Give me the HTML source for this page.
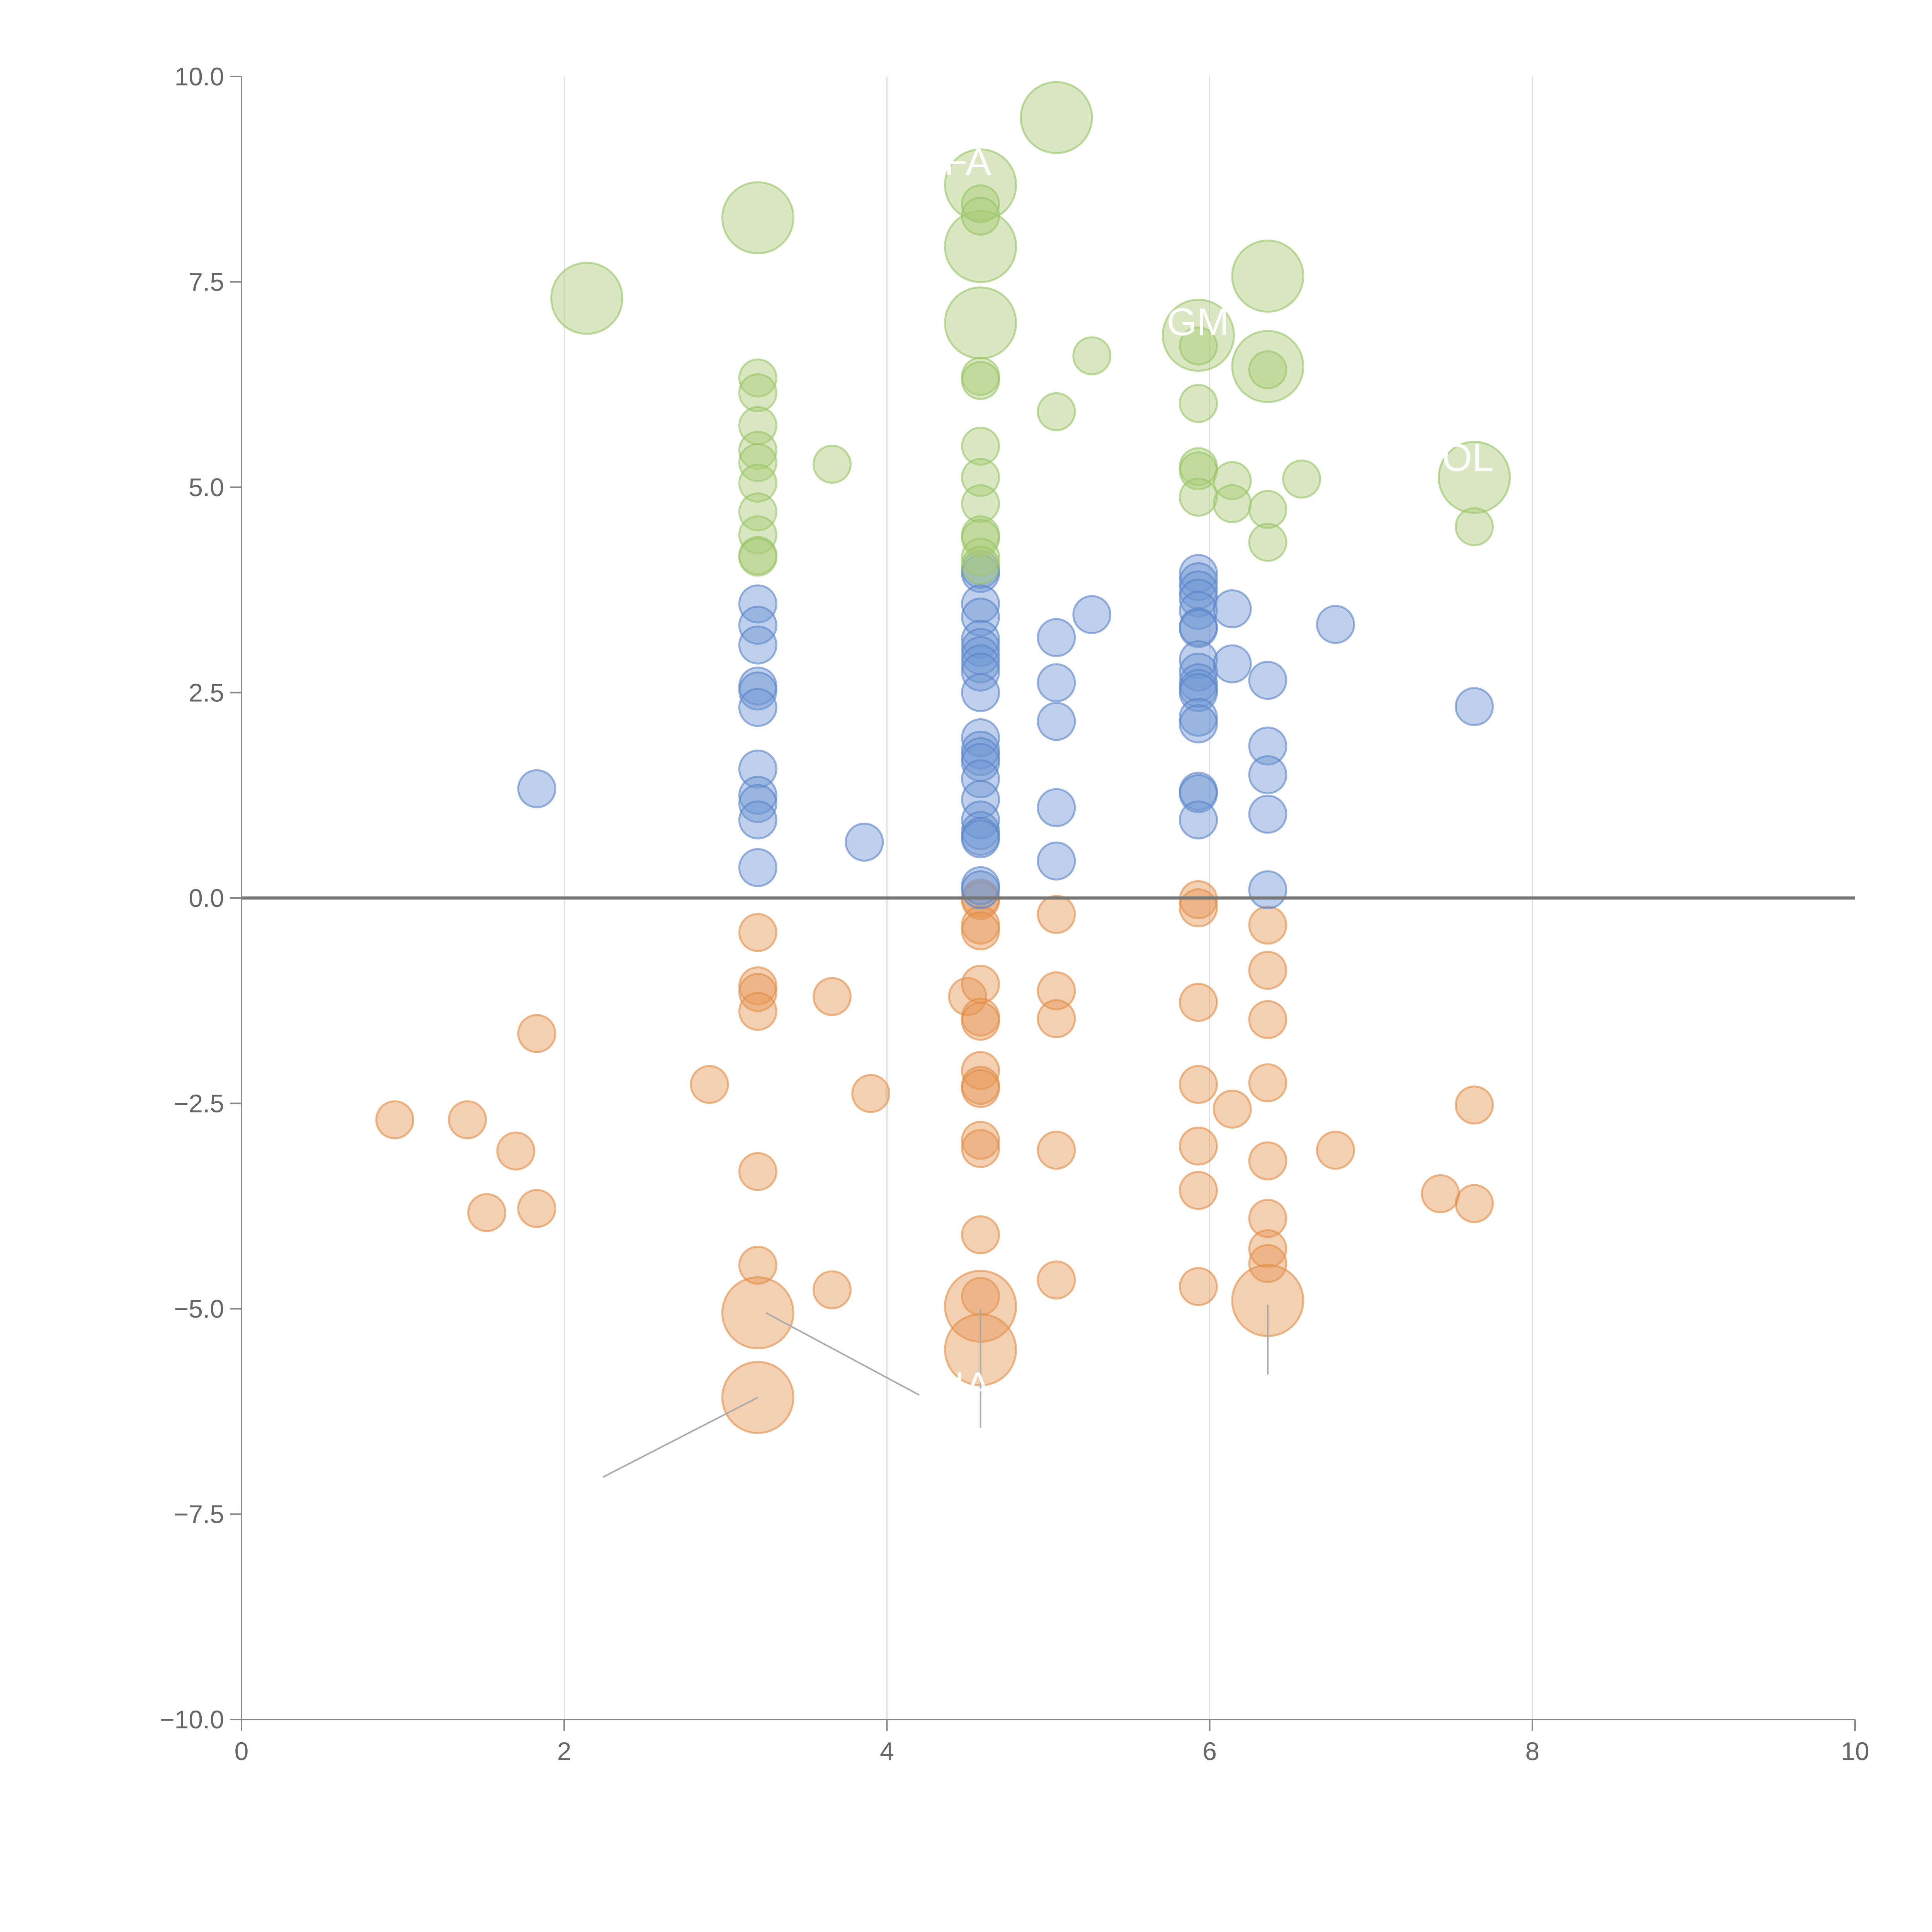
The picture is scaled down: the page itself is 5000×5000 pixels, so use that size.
<!DOCTYPE html>
<html><head><meta charset="utf-8"><style>html,body{margin:0;padding:0;background:#fff}svg{display:block}</style></head>
<body>
<svg id="chart" width="5000" height="5000" viewBox="0 0 5000 5000" xmlns="http://www.w3.org/2000/svg" font-family="Liberation Sans, sans-serif"></svg>
<script>
const xTicks=[0,2,4,6,8,10];
const yTicks=[-10,-7.5,-5,-2.5,0,2.5,5,7.5,10];
const yTickLabels=["\u221210.0","\u22127.5","\u22125.0","\u22122.5","0.0","2.5","5.0","7.5","10.0"];
const greenX=[2.14,3.2,5.05,4.58,4.58,4.58,6.36,5.93,6.36,7.64,3.2,3.2,3.2,3.2,3.2,3.2,3.2,3.2,3.2,3.2,3.66,4.58,4.58,4.58,4.58,4.58,4.58,4.58,4.58,4.58,4.58,4.58,5.05,5.27,5.93,5.93,5.93,5.93,5.93,6.36,6.36,6.36,6.14,6.14,6.57,7.64];
const greenY=[7.3,8.28,9.5,8.68,7.93,7.0,7.57,6.85,6.47,5.12,6.33,6.15,5.75,5.45,5.3,5.05,4.7,4.42,4.17,4.15,5.28,8.45,8.3,6.35,6.3,5.5,5.12,4.8,4.42,4.38,4.15,4.05,5.92,6.6,6.72,6.02,5.25,5.2,4.88,6.43,4.73,4.33,5.08,4.8,5.1,4.52];
const greenBig=[1,1,1,1,1,1,1,1,1,1,0,0,0,0,0,0,0,0,0,0,0,0,0,0,0,0,0,0,0,0,0,0,0,0,0,0,0,0,0,0,0,0,0,0,0,0];
const blueX=[1.83,3.2,3.2,3.2,3.2,3.2,3.2,3.2,3.2,3.2,3.2,3.2,3.86,4.58,4.58,4.58,4.58,4.58,4.58,4.58,4.58,4.58,4.58,4.58,4.58,4.58,4.58,4.58,4.58,4.58,4.58,4.58,4.58,4.58,4.58,5.05,5.05,5.05,5.05,5.05,5.27,5.93,5.93,5.93,5.93,5.93,5.93,5.93,5.93,5.93,5.93,5.93,5.93,5.93,5.93,5.93,5.93,5.93,6.14,6.14,6.36,6.36,6.36,6.36,6.36,6.78,7.64];
const blueY=[1.33,3.58,3.32,3.08,2.58,2.52,2.32,1.57,1.25,1.15,0.95,0.37,0.68,4.0,3.95,3.58,3.42,3.15,3.05,2.95,2.85,2.75,2.5,1.95,1.8,1.72,1.65,1.45,1.2,0.95,0.82,0.75,0.72,0.15,0.1,3.17,2.62,2.15,1.1,0.45,3.45,3.95,3.85,3.75,3.65,3.5,3.3,3.28,2.9,2.75,2.62,2.55,2.5,2.2,2.12,1.3,1.27,0.95,3.52,2.85,2.65,1.85,1.5,1.02,0.1,3.33,2.33];
const orangeX=[0.95,1.4,1.7,1.52,1.83,1.83,2.9,3.2,3.2,3.2,3.2,3.2,3.2,3.2,3.2,3.66,3.9,3.66,4.5,4.58,4.58,4.58,4.58,4.58,4.58,4.58,4.58,4.58,4.58,4.58,4.58,4.58,4.58,4.58,4.58,5.05,5.05,5.05,5.05,5.05,5.93,5.93,5.93,5.93,5.93,5.93,5.93,6.14,6.36,6.36,6.36,6.36,6.36,6.36,6.36,6.36,6.36,6.78,7.43,7.64,7.64];
const orangeY=[-2.7,-2.7,-3.08,-3.83,-3.78,-1.65,-2.27,-0.42,-1.07,-1.15,-1.38,-3.33,-4.47,-5.05,-6.08,-1.2,-2.38,-4.77,-1.2,0.0,-0.03,-0.33,-0.4,-1.05,-1.45,-1.5,-2.1,-2.28,-2.32,-2.95,-3.05,-4.1,-4.85,-4.97,-5.5,-0.2,-1.13,-1.47,-3.07,-4.65,-0.02,-0.12,-1.27,-2.27,-3.02,-3.56,-4.73,-2.57,-0.33,-0.88,-1.48,-2.25,-3.2,-3.9,-4.27,-4.45,-4.9,-3.07,-3.6,-2.52,-3.72];
const orangeBig=[0,0,0,0,0,0,0,0,0,0,0,0,0,1,1,0,0,0,0,0,0,0,0,0,0,0,0,0,0,0,0,0,0,1,1,0,0,0,0,0,0,0,0,0,0,0,0,0,0,0,0,0,0,0,0,0,1,0,0,0,0];

const NS="http://www.w3.org/2000/svg";
const svg=document.getElementById('chart');
const X0=625,X1=4801,Y0=4450,Y1=198;
const sx=v=>X0+(v-0)/10*(X1-X0);
const sy=v=>Y0-(v+10)/20*(Y0-Y1);
function mk(tag,attrs,parent){const e=document.createElementNS(NS,tag);for(const k in attrs)e.setAttribute(k,attrs[k]);(parent||svg).appendChild(e);return e;}

xTicks.forEach(t=>{if(t>0&&t<10){const l=mk('line',{x1:sx(t),x2:sx(t),y1:Y1,y2:Y0,stroke:'#dddddd','stroke-width':3});

}});
const ya=mk('line',{x1:X0,x2:X0,y1:Y1,y2:Y0,stroke:'#888','stroke-width':4});


const xa=mk('line',{x1:X0,x2:X1,y1:Y0,y2:Y0,stroke:'#888','stroke-width':4});


xTicks.forEach(t=>{mk('line',{x1:sx(t),x2:sx(t),y1:Y0,y2:Y0+30,stroke:'#888','stroke-width':4});
const tx=mk('text',{x:sx(t),y:Y0+105,'text-anchor':'middle','font-size':66,fill:'#666'});tx.textContent=t;

});
yTicks.forEach((t,i)=>{mk('line',{x1:X0-30,x2:X0,y1:sy(t),y2:sy(t),stroke:'#888','stroke-width':4});
const tx=mk('text',{x:X0-45,y:sy(t)+23,'text-anchor':'end','font-size':66,fill:'#666'});tx.textContent=yTickLabels[i];

});

function series(xs,ys,big,fill,stroke,name){
 xs.forEach((x,i)=>{const c=mk('circle',{cx:sx(x),cy:sy(ys[i]),r:(big&&big[i])?92:48,fill:fill,stroke:stroke,'stroke-width':5});
 
 });
}
series(orangeX,orangeY,orangeBig,'rgba(230,150,85,0.45)','rgba(225,140,70,0.6)','orange-bubble');
series(blueX,blueY,null,'rgba(110,150,210,0.45)','rgba(90,130,200,0.6)','blue-bubble');
series(greenX,greenY,greenBig,'rgba(170,205,120,0.45)','rgba(150,195,100,0.6)','green-bubble');

const z=mk('line',{x1:X0,x2:X1,y1:sy(0),y2:sy(0),stroke:'#777','stroke-width':8});



[[3.2,-6.08,2.24,-7.05],[3.25,-5.05,4.2,-6.05],[4.58,-5.0,4.58,-6.45],[6.36,-4.95,6.36,-5.8]].forEach(a=>{
 const l=mk('line',{x1:sx(a[0]),y1:sy(a[1]),x2:sx(a[2]),y2:sy(a[3]),stroke:'#aaa','stroke-width':4});
 
 });

[[4.45,-6.1,'PIA'],[6.0,6.85,'GMT'],[7.6,5.2,'OL'],[4.5,8.8,'FA']].forEach(a=>{
 const t=mk('text',{x:sx(a[0]),y:sy(a[1]),'text-anchor':'middle','font-size':100,fill:'#fff'});t.textContent=a[2];
 
 });
</script>
</body></html>
